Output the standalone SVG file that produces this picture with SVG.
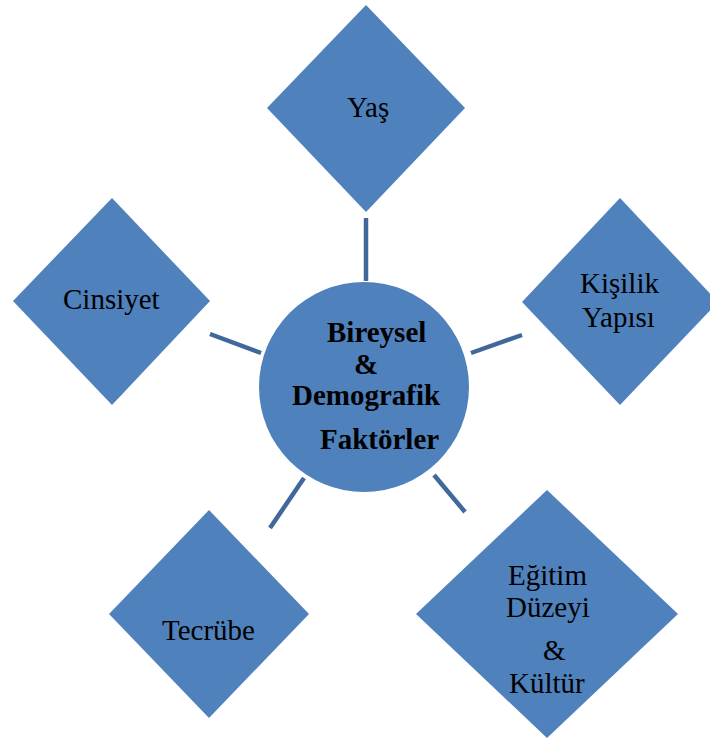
<svg xmlns="http://www.w3.org/2000/svg" width="710" height="740" viewBox="0 0 710 740">
<style>
.shape{fill:#4F81BD;}
.lbl{font-family:'Times New Roman',Tinos,serif;font-size:29px;fill:#000;}
.ctr{font-family:'Times New Roman',Tinos,serif;font-size:29px;font-weight:bold;fill:#000;}
.conn{stroke:#41689A;stroke-width:4.5;fill:none;}
</style>
<rect width="710" height="740" fill="#fff"/>
<g id="connectors">
<line class="conn" x1="366" y1="218" x2="366" y2="281"/>
<line class="conn" x1="210" y1="334" x2="261" y2="353"/>
<line class="conn" x1="471" y1="353" x2="522" y2="335"/>
<line class="conn" x1="304" y1="478" x2="270" y2="528"/>
<line class="conn" x1="434" y1="475" x2="465" y2="512"/>
</g>
<g id="center">
<circle class="shape" cx="364" cy="387" r="105"/>
<text class="ctr" x="327" y="342">Bireysel</text>
<text class="ctr" x="354" y="374">&amp;</text>
<text class="ctr" x="292" y="405">Demografik</text>
<text class="ctr" x="320" y="449">Faktörler</text>
</g>
<g id="yas">
<polygon class="shape" points="366,5 465,108 366,212 267,108"/>
<text class="lbl" x="347" y="117">Yaş</text>
</g>
<g id="cinsiyet">
<polygon class="shape" points="112,198 210,301 112,405 13,301"/>
<text class="lbl" x="63" y="309">Cinsiyet</text>
</g>
<g id="kisilik">
<polygon class="shape" points="620,198 718,302 620,405 522,302"/>
<text class="lbl" x="580" y="293">Kişilik</text>
<text class="lbl" x="582" y="327">Yapısı</text>
</g>
<g id="tecrube">
<polygon class="shape" points="209,510 309,614 209,718 109,614"/>
<text class="lbl" x="162" y="640">Tecrübe</text>
</g>
<g id="egitim">
<polygon class="shape" points="547,490 678,614 547,738 416,614"/>
<text class="lbl" x="508" y="585">Eğitim</text>
<text class="lbl" x="506" y="617">Düzeyi</text>
<text class="lbl" x="543" y="660">&amp;</text>
<text class="lbl" x="509" y="693">Kültür</text>
</g>
</svg>
